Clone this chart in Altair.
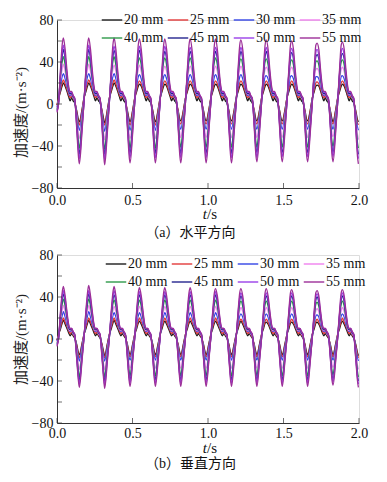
import altair as alt
import pandas as pd

series_names = ["20 mm", "25 mm", "30 mm", "35 mm", "40 mm", "45 mm", "50 mm", "55 mm"]
colors = ["#1c1c1c", "#e23a3a", "#3344e6", "#f080ee", "#2f9a4a", "#24248f", "#9a40e8", "#9c2f98"]

# times of the 12 peaks (s)
peak_times = [0.042, 0.210, 0.378, 0.546, 0.714, 0.882, 1.050, 1.218, 1.386, 1.554, 1.722, 1.890]
# offsets (s) of the read points around each peak
rise_dt = [-0.045, -0.032, -0.018, -0.008]
fall_dt = [0.012, 0.024, 0.035, 0.045, 0.055, 0.065, 0.075, 0.088, 0.100]
trough_dt = 0.106

# ---------------- (a) horizontal ----------------
start_a = [-1, -1, -3, -4, -5, -6, -7, -8]
peaks_a = [
    [20, 20, 20, 19, 19, 19, 19, 19, 19, 19, 18, 19],
    [23, 23, 23, 22, 22, 22, 22, 22, 22, 22, 21, 22],
    [29, 29, 29, 28, 28, 28, 28, 28, 27, 27, 26, 27],
    [38, 38, 37, 37, 36, 36, 36, 36, 35, 35, 34, 35],
    [45, 45, 45, 44, 44, 44, 44, 43, 43, 42, 41, 42],
    [52, 52, 51, 51, 50, 50, 50, 50, 50, 49, 47, 48],
    [56, 56, 55, 55, 55, 54, 54, 54, 54, 53, 52, 53],
    [63, 63, 63, 62, 62, 62, 62, 61, 61, 60, 58, 59],
]
troughs_a = [
    [-17, -18, -17, -17, -16, -16, -16, -16, -16, -16, -17, -17],
    [-20, -20, -20, -20, -19, -19, -19, -19, -19, -19, -19, -20],
    [-25, -26, -25, -25, -24, -24, -24, -24, -24, -24, -24, -25],
    [-33, -34, -33, -33, -32, -32, -32, -32, -32, -32, -31, -34],
    [-42, -43, -42, -42, -41, -41, -41, -41, -41, -41, -40, -42],
    [-48, -48, -47, -47, -47, -47, -47, -46, -46, -46, -46, -48],
    [-52, -53, -51, -51, -51, -51, -51, -51, -50, -50, -50, -52],
    [-57, -58, -56, -56, -56, -56, -56, -55, -55, -55, -55, -57],
]
rise_a = [
    [-6, 5, 12, 17],
    [-7, 5, 14, 20],
    [-10, 4, 18, 26],
    [-14, 3, 24, 33],
    [-18, 2, 28, 40],
    [-22, 0, 30, 45],
    [-25, 0, 32, 49],
    [-28, 0, 35, 56],
]
fall_a = [
    [17, 12, 7, 3, 6, 3, 1, -6, -15],
    [19, 14, 9, 6, 8, 5, 3, -7, -18],
    [24, 17, 11, 8, 9, 6, 3, -9, -22],
    [31, 20, 12, 9, 9, 6, 4, -12, -29],
    [37, 23, 13, 10, 10, 7, 4, -15, -37],
    [43, 26, 14, 10, 10, 7, 5, -18, -42],
    [46, 28, 15, 11, 11, 8, 5, -20, -45],
    [52, 32, 17, 12, 12, 8, 6, -22, -50],
]

# ---------------- (b) vertical ----------------
start_b = [-1, -1, -2, -3, -4, -5, -6, -7]
peaks_b = [
    [18, 18, 18, 17, 17, 17, 17, 17, 16, 16, 16, 17],
    [20, 20, 20, 20, 20, 20, 20, 19, 19, 19, 19, 20],
    [26, 26, 25, 25, 25, 25, 25, 24, 24, 24, 23, 24],
    [32, 32, 31, 31, 31, 31, 31, 30, 30, 30, 29, 30],
    [38, 38, 37, 37, 37, 37, 37, 36, 36, 36, 35, 36],
    [43, 43, 42, 42, 42, 42, 42, 41, 41, 41, 40, 41],
    [46, 46, 46, 45, 45, 45, 45, 44, 44, 44, 43, 44],
    [50, 51, 50, 49, 49, 49, 48, 48, 48, 47, 46, 47],
]
troughs_b = [
    [-15, -16, -15, -15, -15, -15, -15, -15, -15, -15, -15, -16],
    [-18, -18, -17, -17, -17, -17, -17, -17, -17, -17, -17, -18],
    [-21, -21, -20, -20, -20, -20, -20, -20, -20, -20, -20, -21],
    [-29, -29, -28, -28, -28, -28, -28, -28, -28, -28, -27, -29],
    [-36, -36, -35, -35, -35, -35, -35, -35, -35, -35, -34, -36],
    [-40, -40, -39, -39, -39, -39, -39, -39, -39, -39, -38, -40],
    [-43, -44, -42, -42, -42, -42, -42, -42, -42, -42, -41, -43],
    [-46, -47, -45, -45, -45, -45, -45, -45, -45, -45, -44, -46],
]
rise_b = [
    [-5, 4, 10, 15],
    [-6, 4, 12, 17],
    [-8, 3, 15, 22],
    [-12, 2, 19, 27],
    [-15, 1, 22, 33],
    [-18, 0, 24, 37],
    [-20, 0, 26, 40],
    [-22, 0, 28, 44],
]
fall_b = [
    [14, 10, 6, 3, 5, 3, 1, -5, -13],
    [16, 12, 8, 5, 7, 4, 2, -6, -15],
    [21, 14, 9, 7, 8, 5, 3, -8, -18],
    [26, 17, 10, 8, 8, 5, 3, -10, -25],
    [31, 20, 11, 9, 9, 6, 4, -13, -31],
    [35, 22, 12, 9, 9, 6, 4, -15, -35],
    [38, 24, 13, 10, 10, 7, 4, -17, -37],
    [41, 26, 14, 10, 10, 7, 5, -18, -40],
]

x_ticks = [0.0, 0.5, 1.0, 1.5, 2.0]
y_ticks = [-80, -60, -40, -20, 0, 20, 40, 60, 80]

SERIF = "Times New Roman, Liberation Serif, serif"
MIXED = "Times New Roman, Liberation Serif, Noto Sans CJK SC, serif"


def build_df(start, peaks, troughs, rise, fall):
    rows = []
    for i, name in enumerate(series_names):
        rows.append({"t": 0.0, "a": start[i], "series": name})
        for k, tp in enumerate(peak_times):
            for dt, v in zip(rise_dt, rise[i]):
                if tp + dt > 0:
                    rows.append({"t": tp + dt, "a": v, "series": name})
            rows.append({"t": tp, "a": peaks[i][k], "series": name})
            for dt, v in zip(fall_dt, fall[i]):
                rows.append({"t": tp + dt, "a": v, "series": name})
            rows.append({"t": min(tp + trough_dt, 2.0), "a": troughs[i][k], "series": name})
    return pd.DataFrame(rows)


W, H = 302, 168


def panel(df, caption, lx, ly, cap_offset, title_y, ts_y, xpad):
    lines = alt.Chart(df).mark_line(strokeWidth=1.3, interpolate="monotone").encode(
        x=alt.X("t:Q", scale=alt.Scale(domain=[0, 2], nice=False),
                axis=alt.Axis(values=x_ticks, format=".1f", title=None, grid=False,
                              tickSize=0, labelPadding=xpad, labelFont=SERIF, labelFontSize=14,
                              labelColor="#111", domainColor="#333", labelFlush=False)),
        y=alt.Y("a:Q", scale=alt.Scale(domain=[-80, 80], nice=False),
                axis=alt.Axis(values=y_ticks, title="加速度/(m·s⁻²)", grid=False,
                              tickSize=0, labelPadding=4, labelFont=SERIF, labelFontSize=14,
                              labelColor="#111", domainColor="#333", titleFont=MIXED,
                              titleFontSize=15, titleFontWeight="normal", titleColor="#222",
                              titlePadding=3, titleY=title_y, labelFlush=False)),
        color=alt.Color("series:N", scale=alt.Scale(domain=series_names, range=colors),
                        legend=alt.Legend(orient="none", legendX=lx, legendY=ly, direction="horizontal",
                                          columns=4, title=None, symbolType="stroke", symbolSize=420,
                                          symbolStrokeWidth=1.4, labelFont=SERIF, labelFontSize=14,
                                          labelColor="#111", labelOffset=1, columnPadding=0,
                                          rowPadding=-14)),
    )
    xt = alt.Chart(pd.DataFrame({"t": x_ticks})).mark_tick(
        orient="vertical", size=5, yOffset=-2.5, thickness=1, color="#333").encode(
        x="t:Q", y=alt.datum(-80))
    yt = alt.Chart(pd.DataFrame({"a": y_ticks})).mark_tick(
        orient="horizontal", size=5, xOffset=2.5, thickness=1, color="#333").encode(
        y="a:Q", x=alt.datum(0))
    t_lab = alt.Chart(pd.DataFrame({"k": [0]})).mark_text(
        text="t", font=SERIF, fontSize=15, fontStyle="italic", align="right", color="#111").encode(
        x=alt.value(W / 2 - 1), y=alt.value(H + ts_y))
    s_lab = alt.Chart(pd.DataFrame({"k": [0]})).mark_text(
        text="/s", font=SERIF, fontSize=15, align="left", color="#111").encode(
        x=alt.value(W / 2 - 1), y=alt.value(H + ts_y))
    return alt.layer(lines, xt, yt, t_lab, s_lab).properties(
        width=W, height=H,
        title=alt.TitleParams(text=caption, orient="bottom", anchor="middle", frame="bounds",
                              font=MIXED, fontSize=14, fontWeight="normal", color="#111",
                              offset=cap_offset),
    )


df_a = build_df(start_a, peaks_a, troughs_a, rise_a, fall_a)
df_b = build_df(start_b, peaks_b, troughs_b, rise_b, fall_b)

top = panel(df_a, "（a）水平方向", 44, -11, 4, 92, 26, 5)
bottom = panel(df_b, "（b）垂直方向", 48, -2, 1, 84, 25, 3)

chart = alt.vconcat(top, bottom, spacing=6).resolve_scale(color="independent").properties(
    padding={"left": 4, "top": 0, "right": 5, "bottom": 0}
).configure_view(stroke=None).configure(background="white")

chart.save("out.html", embed_options={"renderer": "svg", "actions": False})
